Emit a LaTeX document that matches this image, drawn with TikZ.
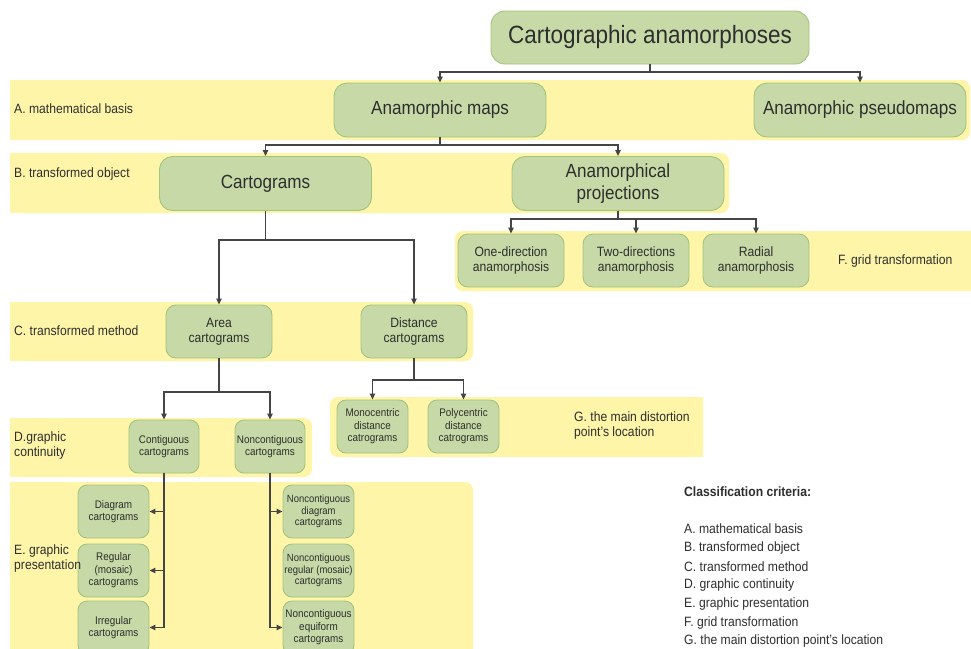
\documentclass[tikz,border=0pt]{standalone}
\usepackage{fontspec}
\setmainfont[FakeStretch=0.9]{Liberation Sans}
\usetikzlibrary{arrows.meta}
\definecolor{bandcol}{HTML}{FEF5A9}
\definecolor{boxfill}{HTML}{C6D9A6}
\definecolor{boxline}{HTML}{A2C47C}
\definecolor{ink}{HTML}{2E2E2E}
\definecolor{wire}{HTML}{454545}
\begin{document}
\begin{tikzpicture}[x=1pt,y=-1pt,
  bandfill/.style={fill=bandcol},
  boxbase/.style={draw=boxline, fill=boxfill, line width=0.9pt, align=center, inner sep=0pt, text=ink},
  hugebox/.style={boxbase, rounded corners=14pt, minimum width=318pt, minimum height=53pt, font=\fontsize{25}{28}\selectfont},
  bigbox/.style={boxbase, rounded corners=13pt, minimum width=212pt, minimum height=54pt, font=\fontsize{19}{22}\selectfont},
  midbox/.style={boxbase, rounded corners=10pt, minimum width=106pt, minimum height=53pt, font=\fontsize{13.5}{15}\selectfont},
  smallbox/.style={boxbase, rounded corners=9pt, minimum width=71pt, minimum height=53pt, font=\fontsize{11}{12.5}\selectfont},
  tinytext/.style={font=\fontsize{10.5}{11.5}\selectfont},
  lab/.style={anchor=west, inner sep=0pt, align=left, text=ink, font=\fontsize{13.5}{15}\selectfont},
  wireline/.style={draw=wire, line width=1.1pt},
  conn/.style={wireline, -{Triangle[length=6pt,width=5.5pt]}}
]
\useasboundingbox (0,0) rectangle (971,648);
\fill[white] (0,0) rectangle (971,648);

% bands
\fill[bandfill, rounded corners=8pt] (10,80) rectangle (970,140);
\fill[bandfill] (10,80) rectangle (100,140);
\fill[bandfill, rounded corners=8pt] (10,153) rectangle (729,213);
\fill[bandfill] (10,153) rectangle (100,213);
\fill[bandfill, rounded corners=8pt] (455,231) rectangle (985,291);
\fill[bandfill, rounded corners=8pt] (10,302) rectangle (473,361);
\fill[bandfill] (10,302) rectangle (100,361);
\fill[bandfill, rounded corners=8pt] (330,397) rectangle (703,457);
\fill[bandfill] (600,397) rectangle (703,457);
\fill[bandfill, rounded corners=8pt] (10,418) rectangle (312,477);
\fill[bandfill] (10,418) rectangle (100,477);
\fill[bandfill, rounded corners=8pt] (10,482) rectangle (473,670);
\fill[bandfill] (10,482) rectangle (100,670);

% nodes
\node[hugebox] (title) at (650,37.5) {Cartographic anamorphoses};
\node[bigbox] (am) at (440,110) {Anamorphic maps};
\node[bigbox] (apm) at (860,110) {Anamorphic pseudomaps};
\node[bigbox] (cg) at (265.5,183.5) {Cartograms};
\node[bigbox] (ap) at (618,183.5) {Anamorphical\\projections};
\node[midbox] (f1) at (511,260.5) {One-direction\\anamorphosis};
\node[midbox] (f2) at (636,260.5) {Two-directions\\anamorphosis};
\node[midbox] (f3) at (756,260.5) {Radial\\anamorphosis};
\node[midbox] (ca) at (219,331.5) {Area\\cartograms};
\node[midbox] (cd) at (414,331.5) {Distance\\cartograms};
\node[smallbox] (gm) at (372.5,426.5) {Monocentric\\distance\\catrograms};
\node[smallbox] (gp) at (463.5,426.5) {Polycentric\\distance\\catrograms};
\node[smallbox, minimum width=70pt] (dc) at (164,446.5) {Contiguous\\cartograms};
\node[smallbox, minimum width=70pt] (dn) at (270,446.5) {Noncontiguous\\cartograms};
\node[smallbox] (e1) at (113.5,511.5) {Diagram\\cartograms};
\node[smallbox] (e2) at (113.5,570.5) {Regular\\(mosaic)\\cartograms};
\node[smallbox] (e3) at (113.5,627.5) {Irregular\\cartograms};
\node[smallbox, tinytext] (n1) at (318.5,511.5) {Noncontiguous\\diagram\\cartograms};
\node[smallbox, tinytext] (n2) at (318.5,570.5) {Noncontiguous\\regular (mosaic)\\cartograms};
\node[smallbox] (n3) at (318.5,627.5) {Noncontiguous\\equiform\\cartograms};

% connectors
\draw[wireline] (title.south) -- (title.south |- 0,72);
\draw[conn] (title.south |- 0,72) -| (am.north);
\draw[conn] (title.south |- 0,72) -| (apm.north);
\draw[wireline] (am.south) -- (am.south |- 0,145);
\draw[conn] (am.south |- 0,145) -| (cg.north);
\draw[conn] (am.south |- 0,145) -| (ap.north);
\draw[wireline] (ap.south) -- (ap.south |- 0,219);
\draw[conn] (ap.south |- 0,219) -| (f1.north);
\draw[conn] (f2.north |- 0,219) -- (f2.north);
\draw[conn] (ap.south |- 0,219) -| (f3.north);
\draw[wireline] (cg.south) -- (cg.south |- 0,240);
\draw[conn] (cg.south |- 0,240) -| (ca.north);
\draw[conn] (cg.south |- 0,240) -| (cd.north);
\draw[wireline] (ca.south) -- (ca.south |- 0,392);
\draw[conn] (ca.south |- 0,392) -| (dc.north);
\draw[conn] (ca.south |- 0,392) -| (dn.north);
\draw[wireline] (cd.south) -- (cd.south |- 0,380);
\draw[conn] (cd.south |- 0,380) -| (gm.north);
\draw[conn] (cd.south |- 0,380) -| (gp.north);
\draw[conn] (dc.south) |- (e3.east);
\draw[conn] (dc.south |- e1.east) -- (e1.east);
\draw[conn] (dc.south |- e2.east) -- (e2.east);
\draw[conn] (dn.south) |- (n3.west);
\draw[conn] (dn.south |- n1.west) -- (n1.west);

% row labels
\node[lab] (la) at (14,109) {A. mathematical basis};
\node[lab] (lb) at (14,174) {B. transformed object};
\node[lab] (lc) at (14,331) {C. transformed method};
\node[lab] (ld) at (14,446) {D.graphic\\continuity};
\node[lab] (le) at (14,559) {E. graphic\\presentation};
\node[lab] (lf) at (838,261) {F. grid transformation};
\node[lab] (lg) at (574,426) {G. the main distortion\\point's location};

% criteria list
\node[lab, font=\fontsize{13.5}{15}\selectfont\bfseries] (ct) at (684,492) {Classification criteria:};
\node[lab] (c1) at (684,529) {A. mathematical basis};
\node[lab] (c2) at (684,547.7) {B. transformed object};
\node[lab] (c3) at (684,566.4) {C. transformed method};
\node[lab] (c4) at (684,585.1) {D. graphic continuity};
\node[lab] (c5) at (684,603.8) {E. graphic presentation};
\node[lab] (c6) at (684,622.5) {F. grid transformation};
\node[lab] (c7) at (684,641.2) {G. the main distortion point’s location};
\end{tikzpicture}
\end{document}
